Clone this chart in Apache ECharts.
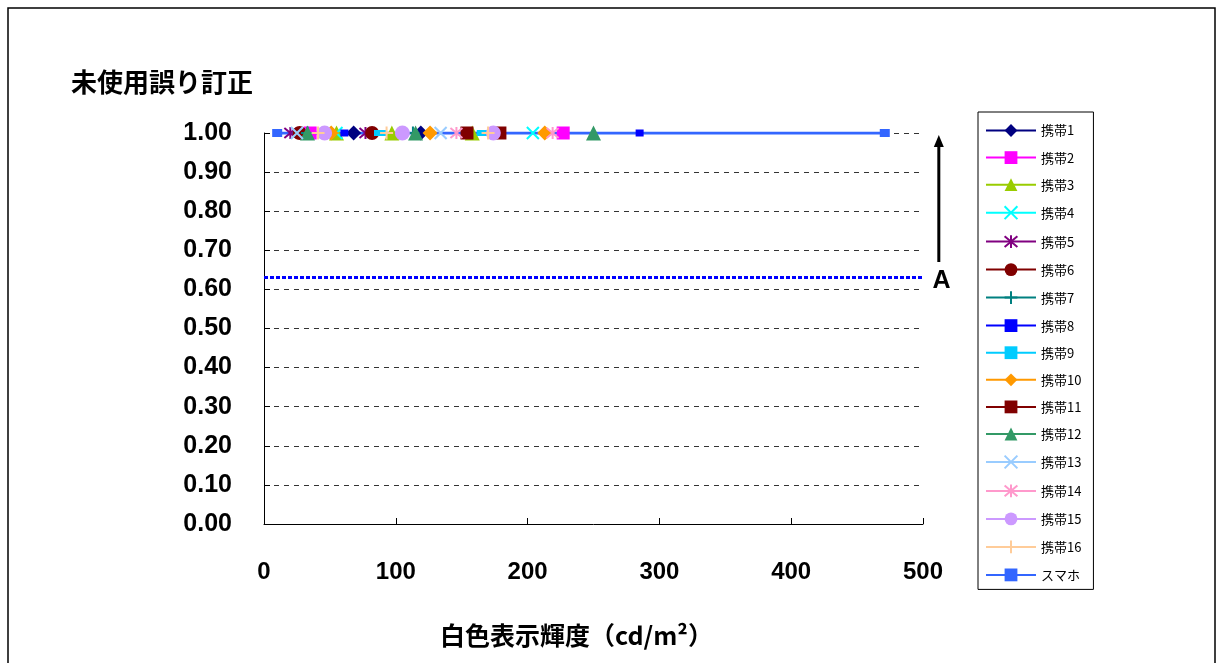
<!DOCTYPE html>
<html>
<head>
<meta charset="utf-8">
<script src="https://cdn.jsdelivr.net/npm/echarts@6/dist/echarts.min.js"></script>
<style>
  html, body { margin: 0; padding: 0; background: #fff; }
  #chart { width: 1217px; height: 663px; }
</style>
</head>
<body>
<div id="chart"></div>
<script>
// Unused error-correction ratio versus white display luminance
const seriesNames = ['携帯1','携帯2','携帯3','携帯4','携帯5','携帯6','携帯7','携帯8',
  '携帯9','携帯10','携帯11','携帯12','携帯13','携帯14','携帯15','携帯16','スマホ'];

// Luminance (cd/m²) of each measured point; every point has a ratio of 1.00
const lum1  = [68, 119];
const lum2  = [35, 227];
const lum3  = [55, 97, 158];
const lum4  = [55, 204];
const lum5  = [20, 77];
const lum6  = [27, 82];
const lum7  = [33, 113];
const lum8  = [61, 285];
const lum9  = [88, 166];
const lum10 = [51, 126, 213];
const lum11 = [154, 179];
const lum12 = [33, 115, 250];
const lum13 = [25, 134];
const lum14 = [146, 219];
const lum15 = [46, 105, 174];
const lum16 = [41, 93, 170];
const lumPhone = [10, 471];

const ratio1  = [1.00, 1.00];
const ratio2  = [1.00, 1.00];
const ratio3  = [1.00, 1.00, 1.00];
const ratio4  = [1.00, 1.00];
const ratio5  = [1.00, 1.00];
const ratio6  = [1.00, 1.00];
const ratio7  = [1.00, 1.00];
const ratio8  = [1.00, 1.00];
const ratio9  = [1.00, 1.00];
const ratio10 = [1.00, 1.00, 1.00];
const ratio11 = [1.00, 1.00];
const ratio12 = [1.00, 1.00, 1.00];
const ratio13 = [1.00, 1.00];
const ratio14 = [1.00, 1.00];
const ratio15 = [1.00, 1.00, 1.00];
const ratio16 = [1.00, 1.00, 1.00];
const ratioPhone = [1.00, 1.00];

// Required level and the arrow pointing toward the measured values
const thresholdLevel = 0.63;
const arrowLum = 512;
const arrowFrom = 0.67;
const arrowTo = 0.995;
const arrowLabel = 'A';

const yTicks = [0, 0.1, 0.2, 0.3, 0.4, 0.5, 0.6, 0.7, 0.8, 0.9, 1.0];
const xTicks = [0, 100, 200, 300, 400, 500];

const lumList = [lum1, lum2, lum3, lum4, lum5, lum6, lum7, lum8, lum9, lum10,
  lum11, lum12, lum13, lum14, lum15, lum16, lumPhone];
const ratioList = [ratio1, ratio2, ratio3, ratio4, ratio5, ratio6, ratio7, ratio8, ratio9, ratio10,
  ratio11, ratio12, ratio13, ratio14, ratio15, ratio16, ratioPhone];

const SYM_X = 'path://M0,0L10,10M10,0L0,10';
const SYM_STAR = 'path://M0,0L10,10M10,0L0,10M5,-1L5,11';
const SYM_PLUS = 'path://M5,0L5,10M0,5L10,5';

const styles = [
  { color: '#000080', symbol: 'diamond', size: 15 },
  { color: '#FF00FF', symbol: 'rect', size: 13 },
  { color: '#99CC00', symbol: 'triangle', size: 15 },
  { color: '#00FFFF', symbol: SYM_X, size: 12, stroke: true },
  { color: '#800080', symbol: SYM_STAR, size: 12, stroke: true },
  { color: '#800000', symbol: 'circle', size: 14 },
  { color: '#008080', symbol: SYM_PLUS, size: 13, stroke: true },
  { color: '#0000FF', symbol: 'rect', size: [8, 7] },
  { color: '#00CCFF', symbol: 'rect', size: [12, 6] },
  { color: '#FF9900', symbol: 'diamond', size: 15 },
  { color: '#800000', symbol: 'rect', size: 13 },
  { color: '#339966', symbol: 'triangle', size: 15 },
  { color: '#99CCFF', symbol: SYM_X, size: 12, stroke: true },
  { color: '#FF99CC', symbol: SYM_STAR, size: 12, stroke: true },
  { color: '#CC99FF', symbol: 'circle', size: 15 },
  { color: '#FFCC99', symbol: SYM_PLUS, size: 13, stroke: true },
  { color: '#3366FF', symbol: 'rect', size: [10, 8] }
];

const series = [];
seriesNames.forEach(function (name, i) {
  const st = styles[i];
  const pts = lumList[i].map(function (x, k) { return [x, ratioList[i][k]]; });
  const isPhone = i === seriesNames.length - 1;
  const item = { color: st.color };
  if (st.stroke) { item.borderColor = st.color; item.borderWidth = 2; }
  series.push({
    name: name,
    type: 'line',
    data: pts,
    symbol: st.symbol,
    symbolSize: st.size,
    showSymbol: isPhone,
    itemStyle: item,
    lineStyle: { color: st.color, width: isPhone ? 3 : 2 },
    z: isPhone ? 3 : 2,
    animation: false
  });
});
// Markers of the handsets drawn above the smartphone line
seriesNames.slice(0, 16).forEach(function (name, i) {
  const st = styles[i];
  const item = { color: st.color, opacity: 1 };
  if (st.stroke) { item.borderColor = st.color; item.borderWidth = 2; }
  series.push({
    name: name,
    type: 'scatter',
    data: lumList[i].map(function (x, k) { return [x, ratioList[i][k]]; }),
    symbol: st.symbol,
    symbolSize: st.size,
    itemStyle: item,
    z: 4,
    animation: false
  });
});
// Required-level dotted line
series[0].markLine = {
  silent: true,
  symbol: 'none',
  label: { show: false },
  lineStyle: { color: '#0000FF', type: [4, 2], width: 3 },
  data: [{ yAxis: thresholdLevel }],
  animation: false
};

const chart = echarts.init(document.getElementById('chart'));
const option = {
  backgroundColor: '#fff',
  animation: false,
  title: {
    text: '未使用誤り訂正',
    left: 66, top: 64,
    textStyle: { fontFamily: 'Noto Sans CJK JP', fontWeight: 'bold', fontSize: 26, color: '#000' }
  },
  grid: { left: 264, top: 133, width: 659, height: 391 },
  legend: {
    orient: 'vertical',
    left: 978, top: 112,
    padding: [12, 12, 8, 7],
    itemWidth: 50, itemHeight: 16, itemGap: 14.1,
    borderColor: '#000', borderWidth: 1,
    data: seriesNames,
    textStyle: { fontFamily: 'Noto Sans CJK JP', fontSize: 13, color: '#000' }
  },
  xAxis: {
    type: 'value', min: 0, max: 500, interval: 100,
    name: '白色表示輝度（cd/m²）',
    nameLocation: 'middle', nameGap: 99,
    nameTextStyle: { fontFamily: 'Noto Sans CJK JP', fontWeight: 'bold', fontSize: 25, color: '#000',
      padding: [0, 34, 0, 0] },
    axisLine: { lineStyle: { color: '#000', width: 1 } },
    axisTick: { inside: true, length: 6, lineStyle: { color: '#000' } },
    axisLabel: { margin: 36, fontFamily: 'Liberation Sans', fontWeight: 'bold', fontSize: 24, color: '#000',
      formatter: function (v) { return xTicks.indexOf(v) >= 0 ? String(v) : ''; } },
    splitLine: { show: false }
  },
  yAxis: {
    type: 'value', min: 0, max: 1, interval: 0.1,
    axisLine: { show: true, lineStyle: { color: '#000', width: 1 } },
    axisTick: { show: true, inside: true, length: 6, lineStyle: { color: '#000' } },
    axisLabel: { margin: 32, fontFamily: 'Liberation Sans', fontWeight: 'bold', fontSize: 25, color: '#000',
      formatter: function (v) {
        const t = yTicks.find(function (y) { return Math.abs(y - v) < 1e-6; });
        return t === undefined ? '' : t.toFixed(2);
      } },
    splitLine: { show: true, lineStyle: { color: '#333', type: [5, 5], width: 1 } }
  },
  series: series
};
chart.setOption(option);

// Outer frame, arrow and its label placed through the axis scales
const p0 = chart.convertToPixel({ gridIndex: 0 }, [arrowLum, arrowFrom]);
const p1 = chart.convertToPixel({ gridIndex: 0 }, [arrowLum, arrowTo]);
const pA = chart.convertToPixel({ gridIndex: 0 }, [arrowLum + 2, thresholdLevel - 0.01]);
chart.setOption({
  graphic: [
    { type: 'rect', shape: { x: 8, y: 8, width: 1207, height: 700 },
      style: { fill: 'none', stroke: '#000', lineWidth: 1.5 }, silent: true, z: 0 },
    { type: 'line', shape: { x1: p0[0], y1: p0[1], x2: p1[0], y2: p1[1] + 8 },
      style: { stroke: '#000', lineWidth: 3 }, silent: true },
    { type: 'polygon', shape: { points: [[p1[0], p1[1]], [p1[0] - 5, p1[1] + 12], [p1[0] + 5, p1[1] + 12]] },
      style: { fill: '#000' }, silent: true },
    { type: 'text', x: pA[0], y: pA[1],
      style: { text: arrowLabel, fill: '#000', font: 'bold 25px "Liberation Sans"', align: 'center', verticalAlign: 'middle' },
      silent: true }
  ]
});
</script>
</body>
</html>
